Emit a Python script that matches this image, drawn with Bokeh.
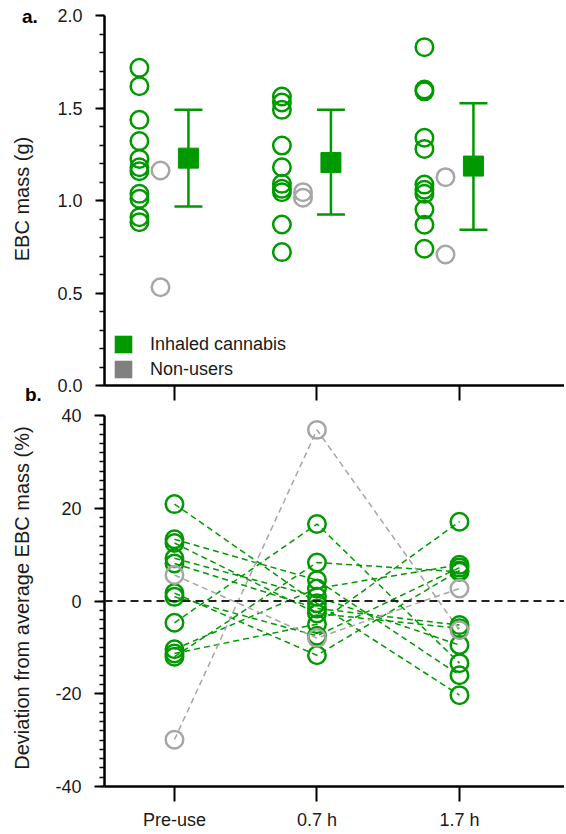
from bokeh.plotting import figure
from bokeh.layouts import column, row
from bokeh.models import (ColumnDataSource, Whisker, TeeHead, FixedTicker, Legend, LegendItem,
                          Span, Range1d, SingleIntervalTicker, PrintfTickFormatter, Div)
from bokeh.transform import dodge
from bokeh.embed import file_html
from bokeh.resources import INLINE

# ---------------- data ----------------
categories = ["Pre-use", "0.7 h", "1.7 h"]

# panel a: EBC mass (g), individual participants
cannabis_pre = [1.717, 1.618, 1.436, 1.321, 1.225, 1.180, 1.158, 1.036, 1.009, 0.910, 0.883]
cannabis_07h = [1.562, 1.530, 1.490, 1.297, 1.180, 1.090, 1.063, 1.045, 0.870, 0.721]
cannabis_17h = [1.829, 1.600, 1.590, 1.339, 1.279, 1.086, 1.058, 1.036, 0.951, 0.869, 0.739]
nonuser_pre = [1.162, 0.531]
nonuser_07h = [1.045, 1.015]
nonuser_17h = [1.126, 0.708]
cannabis_mean = [1.229, 1.205, 1.186]
cannabis_lower = [0.968, 0.924, 0.842]
cannabis_upper = [1.490, 1.490, 1.526]

# panel b: deviation from average EBC mass (%), per participant [pre, 0.7 h, 1.7 h]
cannabis_dev = [
    [0.9, -7.5, 7.2],
    [20.9, -0.5, -20.3],
    [9.2, 0.9, -9.5],
    [-10.4, 2.7, 7.8],
    [-11.3, -5.0, 17.1],
    [-12.0, 8.3, 6.3],
    [-4.7, 16.6, -13.4],
    [13.3, 4.5, -16.0],
    [12.5, -2.7, -5.9],
    [8.1, -1.6, -5.2],
    [1.7, -11.7, 6.6],
]
nonuser_dev = [
    [-29.9, 36.9, -6.3],
    [5.6, -8.0, 2.7],
]

legend_labels = ["Inhaled cannabis", "Non-users"]
panel_letters = ["a.", "b."]
y_label_a = "EBC mass (g)"
y_label_b = "Deviation from average EBC mass (%)"

# ---------------- style ----------------
GREEN = "#009900"
GRAY = "#A6A6A6"
LEG_GRAY = "#808080"
FONT = "Liberation Sans"
TXT = "#1a1a1a"
TOTAL_W = 564
SIDE_W = 40
X_START, X_END = -0.491, 2.737
OFF_GREEN, OFF_GRAY, OFF_MEAN = -0.246, -0.098, 0.098
HA, HB = 404, 428


def style_axes(p, ytick_out, yminor_out):
    p.grid.visible = False
    p.outline_line_color = None
    p.background_fill_color = "white"
    p.border_fill_color = "white"
    for ax in p.axis:
        ax.axis_line_width = 2.5
        ax.axis_line_color = "black"
        ax.major_tick_line_color = "black"
        ax.minor_tick_line_color = "black"
        ax.major_tick_line_width = 2
        ax.minor_tick_line_width = 1.5
        ax.major_tick_in = 0
        ax.minor_tick_in = 0
        ax.major_label_text_font = FONT
        ax.major_label_text_font_size = "18px"
        ax.major_label_text_color = TXT
    p.yaxis.major_tick_out = ytick_out
    p.yaxis.minor_tick_out = yminor_out
    p.yaxis.major_label_standoff = 13
    p.xaxis.ticker = FixedTicker(ticks=list(range(len(categories))))
    p.xaxis.major_tick_out = 15
    p.xaxis.minor_tick_out = 0
    p.xaxis.minor_tick_line_color = None


def span_html(text, left, top, size, bold=False, rotate=False):
    weight = "bold" if bold else "normal"
    base = (f"position:absolute;left:{left}px;top:{top}px;font-family:'{FONT}';"
            f"font-size:{size}px;font-weight:{weight};line-height:1;white-space:nowrap;"
            f"color:{'black' if bold else TXT};margin:0;padding:0;")
    if rotate:
        base += "transform:translate(-50%,-50%) rotate(-90deg);"
    return f'<span style="{base}">{text}</span>'


def side_div(height, parts):
    inner = "".join(parts)
    html = (f'<div style="position:relative;width:{SIDE_W}px;height:{height}px;'
            f'margin:0;padding:0;overflow:visible;">{inner}</div>')
    return Div(text=html, width=SIDE_W, height=height, margin=0)


def long_form(lists):
    xs, ys = [], []
    for i, vals in enumerate(lists):
        xs += [i] * len(vals)
        ys += list(vals)
    return ColumnDataSource(dict(x=xs, y=ys))


# ---------------- panel a ----------------
pa = figure(width=TOTAL_W - SIDE_W, height=HA, output_backend="svg", toolbar_location=None,
            x_range=Range1d(X_START, X_END), y_range=Range1d(0, 2.0),
            min_border_left=64, min_border_right=0, min_border_top=15, min_border_bottom=19)
style_axes(pa, 9, 5)
pa.yaxis.ticker = SingleIntervalTicker(interval=0.5, num_minor_ticks=5)
pa.yaxis.formatter = PrintfTickFormatter(format="%.1f")
pa.xaxis.major_label_overrides = {i: "" for i in range(len(categories))}
pa.xaxis.major_label_text_font_size = "1px"
pa.xaxis.major_label_standoff = 0

src_green = long_form([cannabis_pre, cannabis_07h, cannabis_17h])
src_gray = long_form([nonuser_pre, nonuser_07h, nonuser_17h])
src_mean = ColumnDataSource(dict(x=list(range(len(categories))), y=cannabis_mean,
                                 lower=cannabis_lower, upper=cannabis_upper))

pa.scatter(x=dodge("x", OFF_GREEN), y="y", source=src_green, marker="circle", size=17.5,
           fill_color=None, line_color=GREEN, line_width=2.5)
pa.scatter(x=dodge("x", OFF_GRAY), y="y", source=src_gray, marker="circle", size=17.5,
           fill_color=None, line_color=GRAY, line_width=2.5)
pa.add_layout(Whisker(source=src_mean, base=dodge("x", OFF_MEAN), lower="lower", upper="upper",
                      dimension="height", line_color=GREEN, line_width=2.5,
                      upper_head=TeeHead(size=28, line_color=GREEN, line_width=2.5),
                      lower_head=TeeHead(size=28, line_color=GREEN, line_width=2.5)))
pa.scatter(x=dodge("x", OFF_MEAN), y="y", source=src_mean, marker="square", size=20,
           fill_color=GREEN, line_color=GREEN)

# legend proxies (nothing drawn inside the frame)
nan = float("nan")
proxy = dict(left=[nan], right=[nan], top=[nan], bottom=[nan])
r_leg1 = pa.quad(source=ColumnDataSource(proxy), left="left", right="right", top="top",
                 bottom="bottom", fill_color=GREEN, line_color=None)
r_leg2 = pa.quad(source=ColumnDataSource(dict(proxy)), left="left", right="right", top="top",
                 bottom="bottom", fill_color=LEG_GRAY, line_color=None)
legend = Legend(items=[LegendItem(label=legend_labels[0], renderers=[r_leg1]),
                       LegendItem(label=legend_labels[1], renderers=[r_leg2])],
                location=(8, 5), glyph_width=22, glyph_height=22, label_height=22,
                label_standoff=16, spacing=3, padding=8, border_line_color=None,
                background_fill_color="white", background_fill_alpha=1.0,
                label_text_font=FONT, label_text_font_size="18px", label_text_color=TXT)
pa.add_layout(legend)

da = side_div(HA, [
    span_html(panel_letters[0], 22, 7, 19, bold=True),
    span_html(panel_letters[1], 25, 385, 19, bold=True),
    span_html(y_label_a, 22, 199, 20, rotate=True),
])

# ---------------- panel b ----------------
pb = figure(width=TOTAL_W - SIDE_W, height=HB, output_backend="svg", toolbar_location=None,
            x_range=Range1d(X_START, X_END), y_range=Range1d(-40, 40),
            min_border_left=64, min_border_right=0, min_border_top=11, min_border_bottom=46)
style_axes(pb, 10, 5)
pb.yaxis.ticker = SingleIntervalTicker(interval=20, num_minor_ticks=10)
pb.yaxis.formatter = PrintfTickFormatter(format="%d")
pb.xaxis.major_label_overrides = dict(enumerate(categories))
pb.xaxis.major_label_standoff = 8

tx = list(range(len(categories)))
pb.multi_line(xs=[tx] * len(cannabis_dev), ys=cannabis_dev, line_color=GREEN,
              line_width=1.5, line_dash="6 4")
pb.multi_line(xs=[tx] * len(nonuser_dev), ys=nonuser_dev, line_color=GRAY,
              line_width=1.5, line_dash="6 4")
pb.add_layout(Span(location=0, dimension="width", line_color="#222222", line_width=2,
                   line_dash="8 5"))

src_dev_green = long_form([[s[i] for s in cannabis_dev] for i in tx])
src_dev_gray = long_form([[s[i] for s in nonuser_dev] for i in tx])
pb.scatter(x="x", y="y", source=src_dev_green, marker="circle", size=17.5,
           fill_color=None, line_color=GREEN, line_width=2.5)
pb.scatter(x="x", y="y", source=src_dev_gray, marker="circle", size=17.5,
           fill_color=None, line_color=GRAY, line_width=2.5)

db = side_div(HB, [span_html(y_label_b, 22, 598 - HA, 20, rotate=True)])

layout = column(row(da, pa, spacing=0), row(db, pb, spacing=0), spacing=0)
open("out.html", "w").write(file_html(layout, INLINE))
